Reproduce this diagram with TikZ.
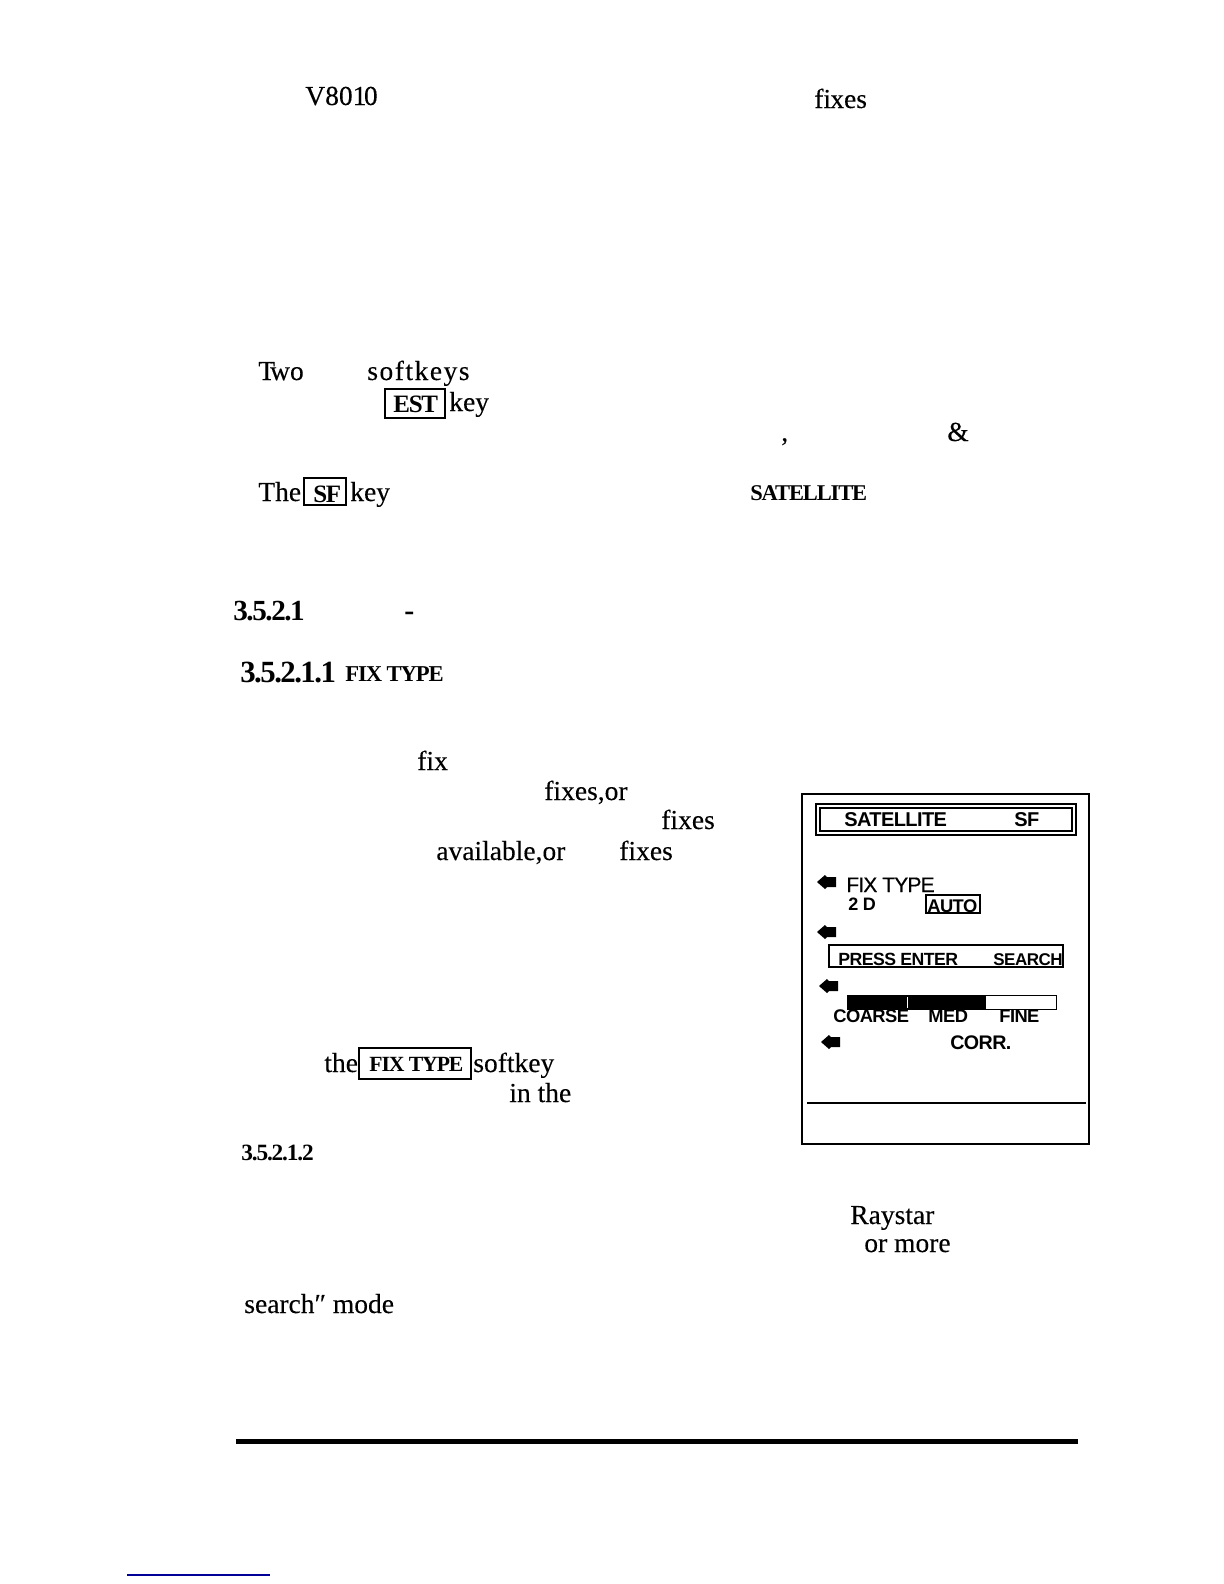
\documentclass[tikz,border=0pt]{standalone}
\usepackage{fontspec}
\setmainfont{Liberation Serif}
\setsansfont{Liberation Sans}
\tikzset{
    body/.style={anchor=base west,inner sep=0pt,font=\fontsize{16.5}{18}\selectfont\addfontfeature{FakeBold=0.2}},
    head/.style={anchor=base west,inner sep=0pt,font=\fontsize{#1}{18}\selectfont\bfseries\addfontfeature{LetterSpace=-5}},
    lcd/.style={anchor=base west,inner sep=0pt,font=\fontsize{#1}{14}\selectfont\sffamily\addfontfeature{FakeBold=0.5,LetterSpace=-4}},
    lcdb/.style={anchor=base west,inner sep=0pt,font=\fontsize{#1}{14}\selectfont\sffamily\bfseries\addfontfeature{LetterSpace=-3}},
    keybox/.style={draw,line width=1.5pt},
}
\begin{document}
\begin{tikzpicture}[x=0.6pt,y=-0.6pt]
        \useasboundingbox (0,0) rectangle (1224,1584);
        % page text
        \node[body] (vnum) at (305,105){V801{\kern-1.5pt}0};
        \node[body] (fixa) at (814,108){fi{\kern-0.5pt}xes};
        \node[body] (two) at (258,380){T{\kern-3pt}wo};
        \node[body] (soft) at (367,380){\addfontfeature{LetterSpace=5.5}softkeys};
        \draw[keybox] (385,389) rectangle (445,418);
        \node[head=15] (est) at (393,412){EST};
        \node[body] (keya) at (449,411){key};
        \node[body] (comma) at (781,441){,};
        \node[body] (amp) at (947,441){\&};
        \node[body] (the) at (258,501){The};
        \draw[keybox] (304,478) rectangle (346,505);
        \node[head=15] (sfkey) at (313,502){SF};
        \node[body] (keyb) at (350,501){key};
        \node[head=13.5] (sat) at (750,500){SATELLITE};
        \node[head=17.5] (seca) at (233,620){3.5.2.1};
        \node[head=18] (dash) at (404,620){-};
        \node[head=18.5] (secb) at (240,682){3.5.2.1.1};
        \node[head=13.6] (fixt) at (345,681){FIX TYPE};
        \node[body] (fixb) at (417,770){fix};
        \node[body] (fixc) at (544,800){fixes,or};
        \node[body] (fixd) at (661,829){fixes};
        \node[body] (avail) at (436,860){available,or};
        \node[body] (fixe) at (619,860){fixes};
        \node[body] (thea) at (324,1072){the};
        \draw[keybox] (359,1048) rectangle (471,1079);
        \node[head=13] (fixk) at (369,1071){FIX TYPE};
        \node[body] (softb) at (473,1072){softkey};
        \node[body] (inthe) at (509,1102){in the};
        \node[head=14] (secc) at (241,1160){3.5.2.1.2};
        \node[body] (ray) at (850,1224){Raystar};
        \node[body] (ormore) at (864,1252){or more};
        \node[body] (search) at (244,1313){search″ mode};
        \fill (236,1438.5) rectangle (1078,1443.5);
        \draw[blue!60!black,line width=0.9pt] (127,1575) -- (270,1575);
        % the screen
        \draw[line width=1.6pt] (802,794) rectangle (1089,1144);
        \draw[line width=1pt] (816,804) rectangle (1076,835);
        \draw[line width=1.6pt] (820,808) rectangle (1072,831);
        \node[lcdb=12] (title) at (844,826){SATELLITE};
        \node[lcdb=12] (titlesf) at (1014,826){SF};
        \foreach \px/\py in {817/882,817/932,819/986,821/1042}
            \fill (\px,\py) -- ++(8,-7) -- ++(2,2) -- ++(9,0) -- ++(0,10) -- ++(-9,0) -- ++(-2,2) -- cycle;
        \node[lcd=12.6] (lcdfix) at (846,892){FIX TYPE};
        \node[lcdb=10.8] (lcdtwo) at (848,910){2 D};
        \draw[line width=1pt] (926,895) rectangle (980,913);
        \node[lcdb=11] (lcdauto) at (927,912){AUTO};
        \draw[line width=1pt] (829,945) rectangle (1063,967);
        \draw[line width=1.3pt] (993,967) -- (1063,967) -- (1063,945);
        \node[lcdb=10.6] (press) at (838,965){PRESS ENTER};
        \node[lcdb=10.2] (lcdsearch) at (993,965){SEARCH};
        \draw[line width=0.6pt] (847,995) rectangle (1056,1009);
        \fill (847,995) rectangle (986,1009);
        \draw[white,line width=0.6pt] (907,997) -- (907,1008);
        \node[lcdb=11] (coarse) at (833,1022){COARSE};
        \node[lcdb=11] (med) at (928,1022){MED};
        \node[lcdb=11] (fine) at (999,1022){FINE};
        \node[lcdb=11.8] (corr) at (950,1049){CORR.};
        \draw[line width=0.9pt] (807,1103) -- (1086,1103);
    \end{tikzpicture}
\end{document}
